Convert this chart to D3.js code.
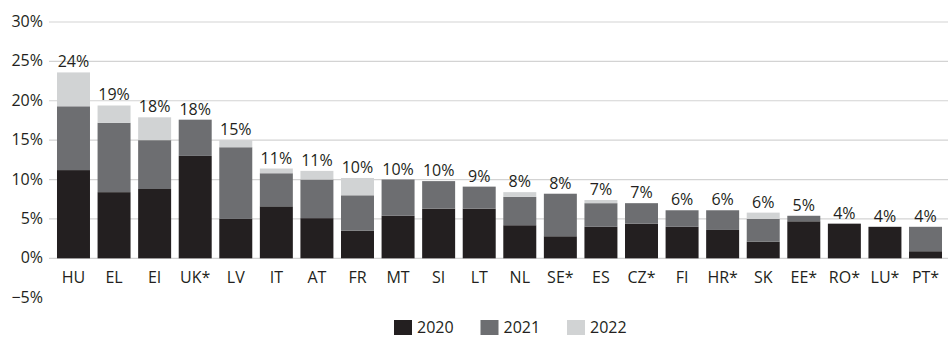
<!DOCTYPE html>
<html>
<head>
<meta charset="utf-8">
<script src="https://cdn.jsdelivr.net/npm/d3@7"></script>
<style>
  html, body { margin: 0; padding: 0; background: #fff; }
  svg { display: block; font-family: "Open Sans", "DejaVu Sans", sans-serif; }
</style>
</head>
<body>
<svg id="chart" width="949" height="338"></svg>
<script>
// Country codes, left to right
const countries = ["HU", "EL", "EI", "UK*", "LV", "IT", "AT", "FR", "MT", "SI", "LT",
                   "NL", "SE*", "ES", "CZ*", "FI", "HR*", "SK", "EE*", "RO*", "LU*", "PT*"];

// Stacked contributions (percentage points) per year
const v2020 = [11.2, 8.4, 8.8, 13.0, 5.0, 6.6, 5.1, 3.5, 5.4, 6.3, 6.3,
               4.2, 2.8, 4.0, 4.4, 4.0, 3.6, 2.1, 4.7, 4.4, 4.0, 0.9];
const v2021 = [8.1, 8.8, 6.2, 4.6, 9.1, 4.2, 4.9, 4.5, 4.6, 3.5, 2.8,
               3.6, 5.4, 3.0, 2.6, 2.1, 2.5, 2.9, 0.7, 0.0, 0.0, 3.1];
const v2022 = [4.3, 2.2, 2.9, 0.0, 0.9, 0.6, 1.1, 2.2, 0.0, 0.0, 0.0,
               0.6, 0.0, 0.4, 0.0, 0.0, 0.0, 0.8, 0.0, 0.0, 0.0, 0.0];

const years = ["2020", "2021", "2022"];
const yearColors = ["#231f20", "#6d6e71", "#d1d3d4"];

// Y axis ticks
const tickValues = [-5, 0, 5, 10, 15, 20, 25, 30];
const tickLabels = ["\u22125%", "0%", "5%", "10%", "15%", "20%", "25%", "30%"];

const svg = d3.select("#chart");
const textColor = "#231f20";

const x = d3.scaleBand()
  .domain(countries)
  .range([53.2, 945.8])
  .paddingInner(0.187)
  .paddingOuter(0.0935);

const y = d3.scaleLinear()
  .domain([-5, 30])
  .range([297.7, 22.0]);

// Gridlines (none drawn at the negative tick)
svg.append("g")
  .selectAll("line")
  .data(tickValues.filter(t => t >= 0))
  .join("line")
  .attr("x1", 49).attr("x2", 948)
  .attr("y1", d => y(d)).attr("y2", d => y(d))
  .attr("stroke", "#d3d3d3")
  .attr("stroke-width", 1.2);

// Y tick labels
const yAxis = d3.axisLeft(y)
  .tickValues(tickValues)
  .tickFormat((d, i) => tickLabels[i])
  .tickSize(0)
  .tickPadding(0);

const yg = svg.append("g")
  .attr("transform", "translate(43,0)")
  .call(yAxis);
yg.select(".domain").remove();
yg.selectAll("text")
  .attr("fill", textColor)
  .attr("font-size", 16)
  .attr("font-family", "'Open Sans', sans-serif")
  .attr("dy", "0.28em");

// Stack the three years
const rows = countries.map((c, i) => ({ country: c, "2020": v2020[i], "2021": v2021[i], "2022": v2022[i] }));
const stacked = d3.stack().keys(years)(rows);

svg.append("g")
  .selectAll("g")
  .data(stacked)
  .join("g")
  .attr("fill", (d, i) => yearColors[i])
  .selectAll("rect")
  .data(d => d)
  .join("rect")
  .attr("x", d => x(d.data.country))
  .attr("width", x.bandwidth())
  .attr("y", d => y(d[1]))
  .attr("height", d => Math.max(0, y(d[0]) - y(d[1])));

// Total labels above each stack
const totals = rows.map(r => r["2020"] + r["2021"] + r["2022"]);
svg.append("g")
  .selectAll("text")
  .data(countries)
  .join("text")
  .attr("x", d => x(d) + x.bandwidth() / 2)
  .attr("y", (d, i) => y(totals[i]) - 5)
  .attr("text-anchor", "middle")
  .attr("font-size", 16)
  .attr("fill", textColor)
  .text((d, i) => Math.round(totals[i]) + "%");

// Category axis labels
const xAxis = d3.axisBottom(x).tickSize(0).tickPadding(0);
const xg = svg.append("g")
  .attr("transform", "translate(0,283)")
  .call(xAxis);
xg.select(".domain").remove();
xg.selectAll("text")
  .attr("fill", textColor)
  .attr("font-size", 16)
  .attr("font-family", "'Open Sans', sans-serif")
  .attr("dy", 0)
  .attr("y", 0);

// Legend
const legend = svg.append("g")
  .selectAll("g")
  .data(years)
  .join("g")
  .attr("transform", (d, i) => `translate(${394 + i * 86.5},0)`);
legend.append("rect")
  .attr("x", 0).attr("y", 320)
  .attr("width", 18).attr("height", 15)
  .attr("fill", (d, i) => yearColors[i]);
legend.append("text")
  .attr("x", 23).attr("y", 333)
  .attr("font-size", 16)
  .attr("fill", textColor)
  .text(d => d);
</script>
</body>
</html>
